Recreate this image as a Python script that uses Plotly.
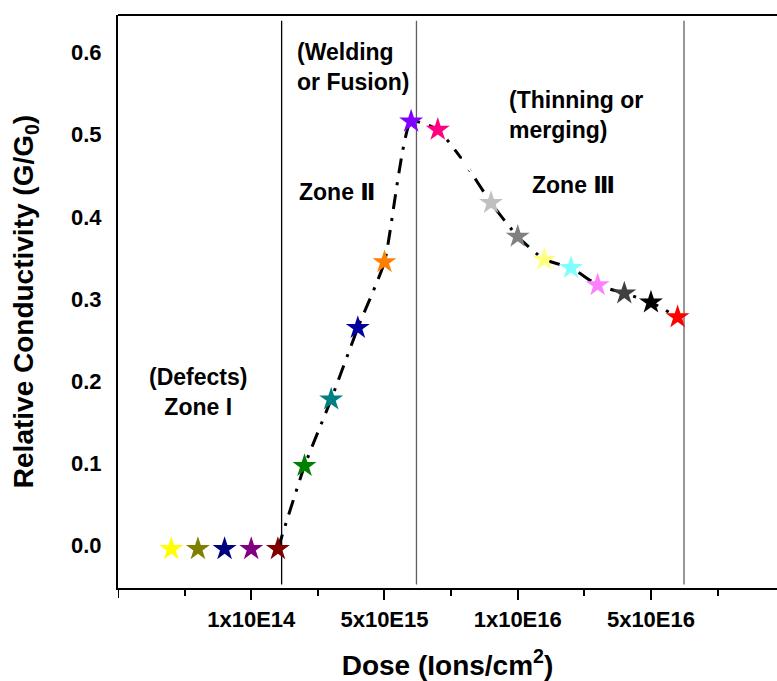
import plotly.graph_objects as go

# ---- data ----
dose_pos = [2, 3, 4, 5, 6, 7, 8, 9, 10, 11, 12, 13, 14, 15, 16, 17, 18, 19, 20, 21]
conductivity = [-0.004, -0.004, -0.004, -0.004, -0.004, 0.097, 0.178, 0.265, 0.345,
                0.516, 0.506, 0.466, 0.417, 0.376, 0.348, 0.338, 0.317, 0.307, 0.296, 0.278]
star_colors = ["#FFFF00", "#808000", "#000080", "#800080", "#800000", "#008000",
               "#008080", "#0000A0", "#FF8000", "#8000FF", "#FF0080", "#FFFFFF",
               "#C0C0C0", "#808080", "#FFFF80", "#80FFFF", "#FF80FF", "#404040",
               "#000000", "#FF0000"]
fit_start = 4  # dashed trend starts at the 5th point

x_tickvals = [5, 10, 15, 20]
x_ticktext = ["1x10E14", "5x10E15", "1x10E16", "5x10E16"]
x_minor = [2.5, 7.5, 12.5, 17.5, 22.5]
y_tickvals = [0.0, 0.1, 0.2, 0.3, 0.4, 0.5, 0.6]

zone_bounds = [6.14, 11.2, 21.24]
zone_colors = ["#000000", "#606060", "#606060"]

FONT = "Liberation Sans, Arial, sans-serif"
ROMAN = "<span style='font-family:DejaVu Sans'>{}</span>"

W, H = 777, 681
ML, MT, MB = 118, 15, 93
plot_h = H - MT - MB

fig = go.Figure()

fig.add_trace(go.Scatter(
    x=dose_pos[fit_start:], y=conductivity[fit_start:],
    mode="lines",
    line=dict(color="black", width=3, dash="15px,9px,3px,9px", shape="spline", smoothing=0.5),
    showlegend=False, hoverinfo="skip"))

fig.add_trace(go.Scatter(
    x=dose_pos, y=conductivity, mode="markers",
    marker=dict(symbol="star", size=18, color=star_colors, line=dict(width=0)),
    showlegend=False))

shapes = []
for xb, c in zip(zone_bounds, zone_colors):
    shapes.append(dict(type="line", xref="x", yref="paper", x0=xb, x1=xb, y0=0.006, y1=0.99,
                       line=dict(color=c, width=1.3), layer="below"))
# top frame line
shapes.append(dict(type="line", xref="paper", yref="paper", x0=0, x1=1, y0=1, y1=1,
                   line=dict(color="black", width=2)))
# major tick at the axis origin (unlabelled)
shapes.append(dict(type="line", xref="x", yref="paper", x0=0, x1=0, y0=0, y1=-10 / plot_h,
                   line=dict(color="black", width=2)))

ann_font = dict(family=FONT, size=23, color="black", weight="bold")
annotations = [
    dict(x=6.64, y=0.582, text="(Welding<br>or Fusion)", align="left", xanchor="left"),
    dict(x=6.72, y=0.430, text="Zone " + ROMAN.format("Ⅱ"), align="left", xanchor="left"),
    dict(x=14.6, y=0.524, text="(Thinning or<br>merging)", align="left", xanchor="left"),
    dict(x=15.46, y=0.439, text="Zone " + ROMAN.format("Ⅲ"), align="left", xanchor="left"),
    dict(x=3.0, y=0.187, text="(Defects)<br>Zone I", align="center", xanchor="center"),
]
for a in annotations:
    a.update(xref="x", yref="y", yanchor="middle", showarrow=False, font=ann_font)

fig.update_layout(
    width=W, height=H,
    margin=dict(l=ML, r=0, t=MT, b=MB),
    paper_bgcolor="white", plot_bgcolor="white",
    font=dict(family=FONT, size=22, color="black", weight="bold"),
    shapes=shapes, annotations=annotations,
    xaxis=dict(
        range=[0, 24.73], showline=True, linewidth=2, linecolor="black",
        tickmode="array", tickvals=x_tickvals, ticktext=x_ticktext,
        ticks="outside", ticklen=10, tickwidth=2, tickcolor="black",
        minor=dict(tickvals=x_minor, ticks="outside", ticklen=6, tickwidth=2, tickcolor="black"),
        showgrid=False, zeroline=False, ticklabelstandoff=1,
        title=dict(text="Dose (Ions/cm<sup>2</sup>)", font=dict(size=28), standoff=26),
    ),
    yaxis=dict(
        range=[-0.0515, 0.6455], showline=True, linewidth=2, linecolor="black",
        tickmode="array", tickvals=y_tickvals, tickformat=".1f",
        ticks="", showgrid=False, zeroline=False, ticklabelstandoff=10,
        title=dict(text="Relative Conductivity (G/G<sub>0</sub>)", font=dict(size=28), standoff=29),
    ),
)

fig.write_html(
    "out.html",
    config={"displayModeBar": False},
    post_script="document.body.style.margin='0';"
                "document.documentElement.style.overflow='hidden';"
                "document.body.style.overflow='hidden';",
)
